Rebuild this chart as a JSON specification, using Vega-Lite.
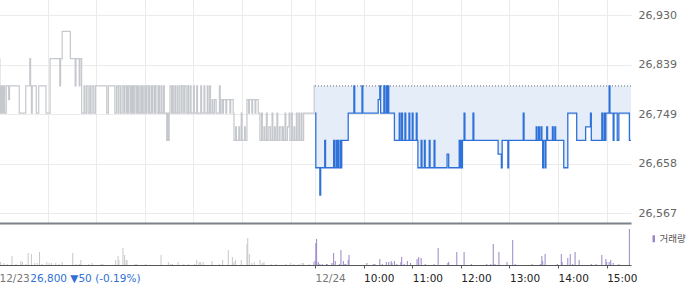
{
"$schema":"https://vega.github.io/schema/vega-lite/v6.json",
"padding":{"left":-4,"top":-2,"right":0,"bottom":0},
"autosize":{"type":"pad"},
"background":"white",
"spacing":0,
"config":{"view":{"stroke":null},"font":"DejaVu Sans","scale":{"continuousPadding":0}},
"datasets":{
"prev":[{"t":0,"p":26850},{"t":1,"p":26750},{"t":2,"p":26800},{"t":3,"p":26750},{"t":4,"p":26800},{"t":5,"p":26750},{"t":6,"p":26800},{"t":7,"p":26750},{"t":9,"p":26800},{"t":12,"p":26775},{"t":13,"p":26800},{"t":25,"p":26750},{"t":33,"p":26800},{"t":38,"p":26850},{"t":39,"p":26800},{"t":40,"p":26750},{"t":41,"p":26800},{"t":46,"p":26750},{"t":49,"p":26800},{"t":58,"p":26750},{"t":63,"p":26850},{"t":75,"p":26800},{"t":76,"p":26850},{"t":78,"p":26900},{"t":88,"p":26850},{"t":94,"p":26800},{"t":95,"p":26850},{"t":99,"p":26800},{"t":100,"p":26850},{"t":102,"p":26750},{"t":105,"p":26800},{"t":106,"p":26750},{"t":108,"p":26800},{"t":110,"p":26750},{"t":112,"p":26800},{"t":113,"p":26750},{"t":115,"p":26800},{"t":117,"p":26750},{"t":119,"p":26800},{"t":133,"p":26750},{"t":135,"p":26800},{"t":143,"p":26750},{"t":145,"p":26800},{"t":147,"p":26750},{"t":148,"p":26800},{"t":150,"p":26750},{"t":152,"p":26800},{"t":154,"p":26750},{"t":155,"p":26800},{"t":157,"p":26750},{"t":158,"p":26800},{"t":159,"p":26750},{"t":160,"p":26800},{"t":162,"p":26750},{"t":163,"p":26800},{"t":164,"p":26750},{"t":165,"p":26800},{"t":166,"p":26750},{"t":167,"p":26800},{"t":169,"p":26750},{"t":170,"p":26800},{"t":171,"p":26750},{"t":172,"p":26800},{"t":173,"p":26750},{"t":175,"p":26800},{"t":176,"p":26750},{"t":177,"p":26800},{"t":178,"p":26750},{"t":180,"p":26800},{"t":181,"p":26750},{"t":182,"p":26800},{"t":184,"p":26750},{"t":185,"p":26800},{"t":186,"p":26750},{"t":188,"p":26800},{"t":189,"p":26750},{"t":190,"p":26800},{"t":192,"p":26750},{"t":193,"p":26800},{"t":195,"p":26750},{"t":197,"p":26800},{"t":198,"p":26750},{"t":200,"p":26800},{"t":201,"p":26750},{"t":203,"p":26800},{"t":204,"p":26750},{"t":207,"p":26700},{"t":208,"p":26750},{"t":209,"p":26700},{"t":210,"p":26750},{"t":211,"p":26800},{"t":213,"p":26750},{"t":214,"p":26800},{"t":215,"p":26750},{"t":217,"p":26800},{"t":218,"p":26750},{"t":220,"p":26800},{"t":221,"p":26750},{"t":223,"p":26800},{"t":225,"p":26750},{"t":226,"p":26800},{"t":228,"p":26750},{"t":229,"p":26800},{"t":231,"p":26750},{"t":233,"p":26800},{"t":234,"p":26750},{"t":236,"p":26800},{"t":237,"p":26750},{"t":240,"p":26800},{"t":241,"p":26750},{"t":244,"p":26800},{"t":245,"p":26750},{"t":249,"p":26800},{"t":250,"p":26750},{"t":253,"p":26800},{"t":254,"p":26750},{"t":257,"p":26800},{"t":258,"p":26750},{"t":260,"p":26800},{"t":261,"p":26750},{"t":263,"p":26775},{"t":264,"p":26750},{"t":266,"p":26775},{"t":268,"p":26750},{"t":272,"p":26800},{"t":273,"p":26750},{"t":274,"p":26775},{"t":276,"p":26750},{"t":277,"p":26775},{"t":280,"p":26750},{"t":281,"p":26775},{"t":285,"p":26750},{"t":286,"p":26775},{"t":289,"p":26750},{"t":290,"p":26700},{"t":292,"p":26725},{"t":293,"p":26700},{"t":296,"p":26725},{"t":297,"p":26700},{"t":299,"p":26750},{"t":300,"p":26700},{"t":303,"p":26725},{"t":304,"p":26700},{"t":306,"p":26775},{"t":308,"p":26750},{"t":309,"p":26775},{"t":312,"p":26750},{"t":313,"p":26775},{"t":316,"p":26750},{"t":317,"p":26775},{"t":320,"p":26750},{"t":322,"p":26700},{"t":324,"p":26750},{"t":325,"p":26700},{"t":327,"p":26725},{"t":328,"p":26700},{"t":330,"p":26750},{"t":331,"p":26700},{"t":333,"p":26725},{"t":335,"p":26700},{"t":337,"p":26750},{"t":338,"p":26700},{"t":340,"p":26725},{"t":341,"p":26700},{"t":343,"p":26750},{"t":344,"p":26700},{"t":346,"p":26725},{"t":348,"p":26700},{"t":350,"p":26725},{"t":351,"p":26700},{"t":353,"p":26750},{"t":354,"p":26700},{"t":356,"p":26725},{"t":358,"p":26750},{"t":359,"p":26700},{"t":361,"p":26750},{"t":362,"p":26700},{"t":364,"p":26725},{"t":365,"p":26700},{"t":367,"p":26750},{"t":368,"p":26700},{"t":370,"p":26750},{"t":371,"p":26700},{"t":373,"p":26750},{"t":374,"p":26700},{"t":376,"p":26750},{"t":389,"p":26800},{"t":390,"p":26800}],
"today":[{"t":390,"p":26750},{"t":391,"p":26650},{"t":396,"p":26600},{"t":397,"p":26650},{"t":402,"p":26700},{"t":403,"p":26650},{"t":413,"p":26700},{"t":414,"p":26650},{"t":416,"p":26700},{"t":417,"p":26650},{"t":418,"p":26700},{"t":419,"p":26650},{"t":421,"p":26700},{"t":422,"p":26650},{"t":423,"p":26700},{"t":431,"p":26750},{"t":438,"p":26800},{"t":439,"p":26750},{"t":448,"p":26800},{"t":449,"p":26750},{"t":468,"p":26775},{"t":470,"p":26800},{"t":471,"p":26750},{"t":475,"p":26800},{"t":476,"p":26750},{"t":478,"p":26800},{"t":479,"p":26750},{"t":480,"p":26800},{"t":481,"p":26750},{"t":488,"p":26700},{"t":494,"p":26750},{"t":495,"p":26700},{"t":497,"p":26750},{"t":498,"p":26700},{"t":501,"p":26750},{"t":502,"p":26700},{"t":506,"p":26750},{"t":507,"p":26700},{"t":510,"p":26750},{"t":511,"p":26700},{"t":515,"p":26750},{"t":516,"p":26700},{"t":517,"p":26650},{"t":521,"p":26700},{"t":522,"p":26650},{"t":525,"p":26700},{"t":526,"p":26650},{"t":531,"p":26700},{"t":532,"p":26650},{"t":537,"p":26700},{"t":538,"p":26650},{"t":553,"p":26675},{"t":555,"p":26650},{"t":568,"p":26700},{"t":569,"p":26650},{"t":570,"p":26700},{"t":571,"p":26650},{"t":572,"p":26700},{"t":574,"p":26750},{"t":575,"p":26700},{"t":585,"p":26750},{"t":586,"p":26700},{"t":616,"p":26675},{"t":620,"p":26650},{"t":621,"p":26700},{"t":628,"p":26650},{"t":629,"p":26700},{"t":647,"p":26750},{"t":648,"p":26700},{"t":663,"p":26725},{"t":664,"p":26700},{"t":666,"p":26725},{"t":667,"p":26700},{"t":669,"p":26725},{"t":670,"p":26700},{"t":671,"p":26650},{"t":672,"p":26700},{"t":674,"p":26650},{"t":675,"p":26700},{"t":676,"p":26725},{"t":677,"p":26700},{"t":683,"p":26725},{"t":684,"p":26700},{"t":686,"p":26725},{"t":687,"p":26700},{"t":697,"p":26650},{"t":702,"p":26750},{"t":713,"p":26700},{"t":724,"p":26725},{"t":730,"p":26750},{"t":731,"p":26700},{"t":744,"p":26750},{"t":745,"p":26700},{"t":747,"p":26750},{"t":748,"p":26700},{"t":749,"p":26750},{"t":753,"p":26800},{"t":754,"p":26750},{"t":758,"p":26700},{"t":759,"p":26750},{"t":763,"p":26700},{"t":765,"p":26750},{"t":778,"p":26700},{"t":780,"p":26700}],
"vprev":[{"t":2,"v":3},{"t":6,"v":2},{"t":10,"v":1},{"t":16,"v":9},{"t":21,"v":1},{"t":27,"v":4},{"t":29,"v":3},{"t":33,"v":1},{"t":36,"v":12},{"t":40,"v":11},{"t":44,"v":2},{"t":47,"v":2},{"t":50,"v":13},{"t":53,"v":1},{"t":59,"v":3},{"t":62,"v":2},{"t":65,"v":2},{"t":70,"v":2},{"t":74,"v":1},{"t":78,"v":3},{"t":91,"v":12},{"t":95,"v":1},{"t":99,"v":1},{"t":101,"v":5},{"t":111,"v":1},{"t":115,"v":2},{"t":126,"v":1},{"t":128,"v":1},{"t":144,"v":5},{"t":147,"v":9},{"t":148,"v":5},{"t":153,"v":17},{"t":155,"v":10},{"t":157,"v":5},{"t":158,"v":5},{"t":168,"v":1},{"t":170,"v":1},{"t":181,"v":1},{"t":200,"v":10},{"t":209,"v":3},{"t":212,"v":1},{"t":214,"v":1},{"t":221,"v":3},{"t":228,"v":1},{"t":234,"v":1},{"t":241,"v":1},{"t":244,"v":5},{"t":247,"v":3},{"t":249,"v":3},{"t":252,"v":3},{"t":263,"v":4},{"t":272,"v":1},{"t":276,"v":5},{"t":283,"v":15},{"t":288,"v":8},{"t":290,"v":3},{"t":292,"v":5},{"t":299,"v":5},{"t":306,"v":21},{"t":307,"v":27},{"t":309,"v":11},{"t":312,"v":2},{"t":315,"v":3},{"t":322,"v":5},{"t":325,"v":2},{"t":327,"v":3},{"t":336,"v":1},{"t":342,"v":1},{"t":354,"v":1},{"t":360,"v":2},{"t":364,"v":1},{"t":370,"v":1},{"t":374,"v":2},{"t":376,"v":2},{"t":383,"v":1},{"t":388,"v":3}],
"vtoday":[{"t":390,"v":4},{"t":391,"v":22},{"t":392,"v":26},{"t":394,"v":3},{"t":396,"v":1},{"t":399,"v":1},{"t":404,"v":1},{"t":405,"v":1},{"t":411,"v":2},{"t":413,"v":12},{"t":415,"v":4},{"t":420,"v":1},{"t":422,"v":15},{"t":425,"v":4},{"t":427,"v":1},{"t":428,"v":1},{"t":431,"v":5},{"t":432,"v":10},{"t":454,"v":2},{"t":462,"v":1},{"t":464,"v":1},{"t":470,"v":6},{"t":473,"v":1},{"t":478,"v":3},{"t":481,"v":3},{"t":484,"v":4},{"t":485,"v":2},{"t":488,"v":4},{"t":491,"v":1},{"t":496,"v":3},{"t":497,"v":8},{"t":500,"v":1},{"t":504,"v":4},{"t":508,"v":2},{"t":516,"v":6},{"t":518,"v":8},{"t":521,"v":7},{"t":526,"v":1},{"t":537,"v":1},{"t":542,"v":17},{"t":554,"v":2},{"t":555,"v":3},{"t":565,"v":13},{"t":574,"v":13},{"t":583,"v":1},{"t":602,"v":1},{"t":607,"v":1},{"t":610,"v":21},{"t":612,"v":1},{"t":617,"v":13},{"t":627,"v":3},{"t":634,"v":25},{"t":637,"v":1},{"t":658,"v":1},{"t":668,"v":1},{"t":670,"v":9},{"t":671,"v":4},{"t":674,"v":11},{"t":689,"v":1},{"t":694,"v":11},{"t":695,"v":3},{"t":702,"v":7},{"t":705,"v":11},{"t":708,"v":1},{"t":711,"v":13},{"t":716,"v":5},{"t":731,"v":1},{"t":737,"v":1},{"t":744,"v":10},{"t":749,"v":6},{"t":750,"v":3},{"t":753,"v":3},{"t":755,"v":5},{"t":758,"v":2},{"t":765,"v":1},{"t":778,"v":36}],
"base":[{"t0":390,"t1":780,"p":26800}]
},
"vconcat":[
{
"width":632,"height":225,
"layer":[
{"data":{"name":"today"},
 "mark":{"type":"area","interpolate":"step-after","color":"#e5edf9"},
 "encoding":{
  "x":{"field":"t","type":"quantitative","scale":{"domain":[0,780],"nice":false,"zero":false,"padding":0},
       "axis":{"values":[0,60,120,180,240,300,360,390,450,510,570,630,690,750],"labels":false,"ticks":false,"title":null,"grid":true,"gridColor":"#ebebeb","domain":true,"domainColor":"#7d8288","domainWidth":2}},
  "y":{"field":"p","type":"quantitative","scale":{"domain":[26548.7,26961.2],"nice":false,"zero":false},
       "axis":{"orient":"right","values":[26567,26657.75,26748.5,26839.25,26930],"format":",.0f","title":null,"grid":true,"gridColor":"#ebebeb","ticks":false,"domain":false,"labelPadding":7,"labelFont":"DejaVu Sans","labelFontSize":11,"labelColor":"#666"}},
  "y2":{"datum":26800}}},
{"data":{"name":"base"},
 "mark":{"type":"rule","strokeDash":[1,2],"color":"#666","strokeWidth":1},
 "encoding":{"x":{"field":"t0","type":"quantitative"},"x2":{"field":"t1"},"y":{"field":"p","type":"quantitative"}}},
{"data":{"name":"prev"},
 "mark":{"type":"line","interpolate":"step-after","color":"#c5c8cc","strokeWidth":1.2},
 "encoding":{"x":{"field":"t","type":"quantitative"},"y":{"field":"p","type":"quantitative"}}},
{"data":{"name":"today"},
 "mark":{"type":"line","interpolate":"step-after","color":"#2e71d8","strokeWidth":1.3},
 "encoding":{"x":{"field":"t","type":"quantitative"},"y":{"field":"p","type":"quantitative"}}}
]
},
{
"width":632,"height":42,
"layer":[
{"data":{"name":"vprev"},
 "mark":{"type":"bar","width":1,"color":"#c8c8c8"},
 "encoding":{
  "x":{"field":"t","type":"quantitative","scale":{"domain":[0,780],"nice":false,"zero":false,"padding":0},
       "axis":{"values":[0,38,390,450,510,570,630,690,750],"title":null,"grid":false,"labelOverlap":false,"labelFlush":false,
               "labelExpr":"datum.value == 0 ? '12/23' : datum.value == 38 ? '26,800 ▼50 (-0.19%)' : datum.value == 390 ? '12/24' : datum.value == 450 ? '10:00' : datum.value == 510 ? '11:00' : datum.value == 570 ? '12:00' : datum.value == 630 ? '13:00' : datum.value == 690 ? '14:00' : '15:00'",
               "labelAlign":"left","labelFont":"DejaVu Sans","labelFontSize":10.5,"labelPadding":5,
               "labelColor":{"condition":[{"test":"datum.value == 38","value":"#2f6fd6"},{"test":"datum.value <= 390","value":"#777777"}],"value":"#222222"},
               "tickSize":3,"tickColor":"#555","tickOpacity":{"condition":{"test":"datum.value == 38","value":0},"value":1},
               "domainColor":"#555","domainWidth":1}},
  "y":{"field":"v","type":"quantitative","scale":{"domain":[0,42],"nice":false},"axis":null}}},
{"data":{"name":"vtoday"},
 "mark":{"type":"bar","width":1},
 "encoding":{
  "x":{"field":"t","type":"quantitative"},
  "y":{"field":"v","type":"quantitative"},
  "color":{"datum":"거래량","scale":{"domain":["거래량"],"range":["#9a86c8"]},
           "legend":{"orient":"right","title":null,"offset":7,"padding":11,"symbolType":"M-0.35,-1L0.35,-1L0.35,1L-0.35,1Z","symbolSize":49,"symbolStrokeWidth":0,"labelFont":"Noto Sans CJK KR","labelFontSize":9.5,"labelColor":"#555","labelOffset":1}}}}
]
}
],
"resolve":{"legend":{"color":"independent"},"scale":{"color":"independent"}}
}
